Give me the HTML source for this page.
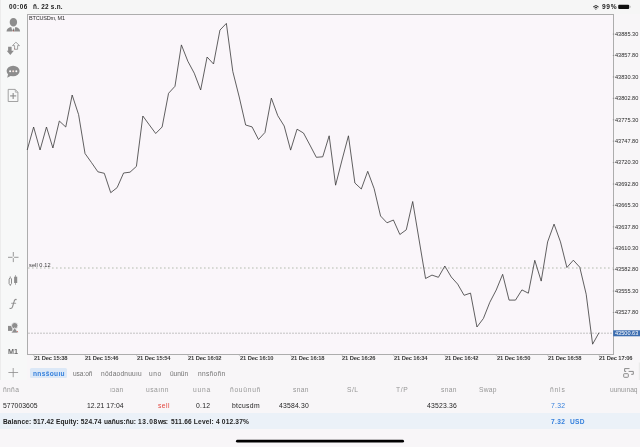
<!DOCTYPE html>
<html><head><meta charset="utf-8">
<style>
html,body{margin:0;padding:0;}
body{width:640px;height:447px;overflow:hidden;position:relative;background:#f8f6f8;font-family:"Liberation Sans", sans-serif;}
.abs{position:absolute;left:0;top:0;}
.t{position:absolute;white-space:nowrap;will-change:transform;}
</style></head><body>
<div class="abs" style="left:0;top:0;width:640px;height:14px;background:#f6f6f6;"></div>
<div class="abs" style="left:0;top:0;width:27px;height:380px;background:#f7f8f8;border-left:1px solid #ececec;box-sizing:border-box;"></div>

<svg class="abs" width="640" height="447" viewBox="0 0 640 447">
  <rect x="27.5" y="14.5" width="586" height="340" fill="#faf6fa" stroke="#adadad" stroke-width="1"/>
  <line x1="28" y1="268" x2="612.5" y2="268" stroke="#b3bcae" stroke-width="1" stroke-dasharray="1.6 2.4"/>
  <line x1="28" y1="333.2" x2="612.5" y2="333.2" stroke="#c2c2c2" stroke-width="1" stroke-dasharray="2 1"/>
  <polyline points="27.20,150.00 33.62,127.00 40.05,150.00 46.47,127.00 52.90,148.00 59.33,121.00 65.75,127.00 72.17,95.00 78.60,114.60 85.02,153.50 91.45,162.50 97.88,171.80 104.30,173.30 110.72,192.70 117.15,187.60 123.58,173.00 130.00,172.20 136.42,166.40 142.85,116.00 149.28,124.80 155.70,133.50 162.12,127.00 168.55,93.30 174.97,86.30 181.40,44.90 187.82,61.20 194.25,73.20 200.67,90.00 207.10,57.00 213.52,64.00 219.95,30.10 226.37,23.40 232.80,71.50 239.22,97.00 245.65,125.00 252.07,126.90 258.50,139.50 264.93,132.50 271.35,98.10 277.77,115.70 284.20,126.00 290.62,150.10 297.05,129.20 303.47,133.00 309.90,145.00 316.32,157.30 322.75,156.80 329.17,135.80 335.60,185.20 342.02,160.00 348.45,135.80 354.88,183.00 361.30,189.00 367.72,171.30 374.15,188.70 380.57,216.00 387.00,222.80 393.42,220.00 399.85,234.50 406.27,229.80 412.70,201.50 419.12,240.00 425.55,278.50 431.97,275.10 438.40,277.30 444.82,266.00 451.25,277.00 457.67,284.10 464.10,295.30 470.52,293.10 476.95,327.00 483.38,318.50 489.80,302.30 496.22,290.00 502.65,274.30 509.07,300.10 515.50,300.10 521.92,289.90 528.35,293.20 534.77,260.30 541.20,281.10 547.62,241.90 554.05,224.10 560.48,241.90 566.90,267.50 573.33,260.20 579.75,267.20 586.18,294.20 592.60,344.20 599.02,332.70" fill="none" stroke="#383838" stroke-width="0.8" stroke-linejoin="miter"/>
  <line x1="612.8" y1="34.10" x2="614.3" y2="34.10" stroke="#777" stroke-width="0.6"/><line x1="612.8" y1="55.51" x2="614.3" y2="55.51" stroke="#777" stroke-width="0.6"/><line x1="612.8" y1="76.93" x2="614.3" y2="76.93" stroke="#777" stroke-width="0.6"/><line x1="612.8" y1="98.34" x2="614.3" y2="98.34" stroke="#777" stroke-width="0.6"/><line x1="612.8" y1="119.76" x2="614.3" y2="119.76" stroke="#777" stroke-width="0.6"/><line x1="612.8" y1="141.18" x2="614.3" y2="141.18" stroke="#777" stroke-width="0.6"/><line x1="612.8" y1="162.59" x2="614.3" y2="162.59" stroke="#777" stroke-width="0.6"/><line x1="612.8" y1="184.00" x2="614.3" y2="184.00" stroke="#777" stroke-width="0.6"/><line x1="612.8" y1="205.42" x2="614.3" y2="205.42" stroke="#777" stroke-width="0.6"/><line x1="612.8" y1="226.83" x2="614.3" y2="226.83" stroke="#777" stroke-width="0.6"/><line x1="612.8" y1="248.25" x2="614.3" y2="248.25" stroke="#777" stroke-width="0.6"/><line x1="612.8" y1="269.67" x2="614.3" y2="269.67" stroke="#777" stroke-width="0.6"/><line x1="612.8" y1="291.08" x2="614.3" y2="291.08" stroke="#777" stroke-width="0.6"/><line x1="612.8" y1="312.50" x2="614.3" y2="312.50" stroke="#777" stroke-width="0.6"/>
  <line x1="33.83" y1="354.5" x2="33.83" y2="356" stroke="#b0b0b0" stroke-width="0.6"/><line x1="85.22" y1="354.5" x2="85.22" y2="356" stroke="#b0b0b0" stroke-width="0.6"/><line x1="136.62" y1="354.5" x2="136.62" y2="356" stroke="#b0b0b0" stroke-width="0.6"/><line x1="188.02" y1="354.5" x2="188.02" y2="356" stroke="#b0b0b0" stroke-width="0.6"/><line x1="239.42" y1="354.5" x2="239.42" y2="356" stroke="#b0b0b0" stroke-width="0.6"/><line x1="290.82" y1="354.5" x2="290.82" y2="356" stroke="#b0b0b0" stroke-width="0.6"/><line x1="342.22" y1="354.5" x2="342.22" y2="356" stroke="#b0b0b0" stroke-width="0.6"/><line x1="393.62" y1="354.5" x2="393.62" y2="356" stroke="#b0b0b0" stroke-width="0.6"/><line x1="445.02" y1="354.5" x2="445.02" y2="356" stroke="#b0b0b0" stroke-width="0.6"/><line x1="496.42" y1="354.5" x2="496.42" y2="356" stroke="#b0b0b0" stroke-width="0.6"/><line x1="547.83" y1="354.5" x2="547.83" y2="356" stroke="#b0b0b0" stroke-width="0.6"/><line x1="599.23" y1="354.5" x2="599.23" y2="356" stroke="#b0b0b0" stroke-width="0.6"/>
  <rect x="613.2" y="330.3" width="26.8" height="6" fill="#3c6db0"/>
</svg>

<svg class="abs" width="640" height="447" viewBox="0 0 640 447">
 <g fill="#8d8d8d" stroke="none">
  <!-- person -->
  <path d="M13.4,17.9 C15.7,17.9 17.1,19.7 17.1,21.9 C17.1,24.7 15.4,26.5 13.4,26.5 C11.4,26.5 9.7,24.7 9.7,21.9 C9.7,19.7 11.1,17.9 13.4,17.9 Z"/>
  <path d="M6.5,31.5 C6.5,29.2 8.6,27.6 11.2,27.1 L12.6,31.5 Z"/>
  <path d="M20.1,31.5 C20.1,29.2 18,27.6 15.4,27.1 L14.0,31.5 Z"/>
  <path d="M13.3,27.9 L14.0,30.3 L13.3,31.5 L12.6,30.3 Z" fill="#6c6c6c"/>
  <rect x="12.95" y="30.6" width="0.7" height="0.9" fill="#d84a3a"/>
  <!-- down arrow filled -->
  <path d="M8.1,46.7 L11.6,46.7 L11.6,50.8 L13.9,50.8 L10.3,55 L6.7,50.8 L8.1,50.8 Z"/>
  <!-- chat bubble -->
  <ellipse cx="13.1" cy="71.0" rx="6.5" ry="5.2"/>
  <path d="M8.3,73.5 L7.2,77.7 L11.5,75.5 Z"/>
  <!-- candles filled -->
  <rect x="14.1" y="276.7" width="3.1" height="6.3"/>
  <rect x="15.3" y="275.1" width="0.7" height="9.7"/>
  <!-- shapes -->
  <rect x="8" y="325.9" width="4.4" height="5"/>
  <circle cx="14.7" cy="325.7" r="3.2" stroke="#f5f5f7" stroke-width="0.8"/>
  <path d="M14.7,327.6 L18.3,333 L11.1,333 Z" stroke="#f5f5f7" stroke-width="0.7"/>
  <rect x="17" y="331" width="0.8" height="0.8" fill="#d84a3a"/>
  <rect x="14.2" y="48.4" width="0.8" height="0.9" fill="#d84a3a"/>
 </g>
 <g fill="#ffffff">
  <circle cx="10.1" cy="71.3" r="1.0"/>
  <circle cx="13.2" cy="71.3" r="1.0" fill="#f6e2dc"/>
  <circle cx="16.3" cy="71.3" r="1.0"/>
 </g>
 <g fill="none" stroke="#8d8d8d" stroke-width="0.8">
  <!-- up arrow outline -->
  <path d="M15.9,42.2 L19.5,45.6 L17.6,45.6 L17.6,49.3 L14.6,49.3 L14.6,45.6 L12.5,45.6 Z"/>
  <!-- doc plus -->
  <path d="M8.2,89.4 L15.2,89.4 L17.9,92.3 L17.9,101.5 L8.2,101.5 Z"/>
  <path d="M15.2,89.6 L15.4,92.2 L17.9,92.3" stroke-width="0.6"/>
  <!-- candle outline -->
  <path d="M10.3,277.6 L11.5,279 L11.5,283.6 L10.3,285 L9.1,283.6 L9.1,279 Z" stroke-width="1"/>
  <line x1="10.3" y1="276.4" x2="10.3" y2="277.6"/>
  <line x1="10.3" y1="285" x2="10.3" y2="286"/>
  <!-- f -->
  <path d="M16.6,299.6 C15.3,299.1 14.5,299.9 14.2,301.2 L12.5,306.8 C12.1,308.1 11.0,308.7 9.6,308.4" stroke-width="1.15"/>
  <line x1="11.2" y1="303.3" x2="16.1" y2="303.3"/>
 </g>
 <g stroke="#8d8d8d" fill="none">
  <line x1="10.1" y1="95.9" x2="16.2" y2="95.9" stroke-width="1.1"/>
  <line x1="13.15" y1="93.0" x2="13.15" y2="99" stroke-width="1.1"/>
  <!-- crosshair -->
  <line x1="8" y1="257.3" x2="12.5" y2="257.3" stroke-width="0.9"/>
  <line x1="14.1" y1="257.3" x2="18.5" y2="257.3" stroke-width="0.9"/>
  <line x1="13.3" y1="252" x2="13.3" y2="256.5" stroke-width="0.9"/>
  <line x1="13.3" y1="258.1" x2="13.3" y2="262.1" stroke-width="0.9"/>
  <!-- plus bottom -->
  <line x1="8.4" y1="372.5" x2="18.1" y2="372.5" stroke-width="0.8"/>
  <line x1="13.2" y1="368" x2="13.2" y2="377.2" stroke-width="0.8"/>
 </g>
 <!-- wifi -->
 <g fill="none" stroke="#1a1a1a" stroke-linecap="butt">
  <path d="M593.2,6.9 A3.8,3.8 0 0 1 598.6,6.9" stroke-width="0.95"/>
  <path d="M594.4,8.0 A2.2,2.2 0 0 1 597.4,8.0" stroke-width="0.95"/>
 </g>
 <path d="M595.1,8.9 A1.1,1.1 0 0 1 596.7,8.9 L595.9,9.7 Z" fill="#1a1a1a"/>
 <!-- battery -->
 <rect x="618.2" y="4.7" width="11" height="4.2" rx="1" fill="#111"/>
 <rect x="629.6" y="5.9" width="1.1" height="1.8" fill="#bbb"/>
 <!-- chart toolbar icon right -->
 <g fill="none" stroke="#8a8a8a" stroke-width="1">
  <path d="M629.5,368.6 L624.6,368.6 L624.6,371.4 L626.2,371.4"/>
  <path d="M628.6,371.4 L633.3,371.4 L633.3,374.3 L631.2,374.3"/>
  <rect x="623.7" y="373.7" width="4.6" height="3.6" rx="0.6"/>
 </g>
 <rect x="638.8" y="362.5" width="1.2" height="17.5" fill="#ebebeb"/>
 <!-- home indicator -->
 <rect x="236" y="439.7" width="168" height="2.9" rx="1.45" fill="#000"/>
 <!-- right edge bar -->
</svg>
<div class="t" style="left:9.1px;top:3.88px;font-size:6.4px;line-height:6.4px;color:#1a1a1a;font-weight:bold;letter-spacing:0.485px;">00:06</div>
<div class="t" style="left:601.7px;top:4.11px;font-size:6.6px;line-height:6.6px;color:#1a1a1a;font-weight:bold;letter-spacing:0.648px;">99%</div>
<div class="t" style="left:614.6px;top:31.86px;font-size:5.6px;line-height:5.6px;color:#2a2a2a;font-weight:normal;">43885.30</div>
<div class="t" style="left:614.6px;top:53.27px;font-size:5.6px;line-height:5.6px;color:#2a2a2a;font-weight:normal;">43857.80</div>
<div class="t" style="left:614.6px;top:74.69px;font-size:5.6px;line-height:5.6px;color:#2a2a2a;font-weight:normal;">43830.30</div>
<div class="t" style="left:614.6px;top:96.10px;font-size:5.6px;line-height:5.6px;color:#2a2a2a;font-weight:normal;">43802.80</div>
<div class="t" style="left:614.6px;top:117.52px;font-size:5.6px;line-height:5.6px;color:#2a2a2a;font-weight:normal;">43775.30</div>
<div class="t" style="left:614.6px;top:138.93px;font-size:5.6px;line-height:5.6px;color:#2a2a2a;font-weight:normal;">43747.80</div>
<div class="t" style="left:614.6px;top:160.35px;font-size:5.6px;line-height:5.6px;color:#2a2a2a;font-weight:normal;">43720.30</div>
<div class="t" style="left:614.6px;top:181.76px;font-size:5.6px;line-height:5.6px;color:#2a2a2a;font-weight:normal;">43692.80</div>
<div class="t" style="left:614.6px;top:203.18px;font-size:5.6px;line-height:5.6px;color:#2a2a2a;font-weight:normal;">43665.30</div>
<div class="t" style="left:614.6px;top:224.59px;font-size:5.6px;line-height:5.6px;color:#2a2a2a;font-weight:normal;">43637.80</div>
<div class="t" style="left:614.6px;top:246.01px;font-size:5.6px;line-height:5.6px;color:#2a2a2a;font-weight:normal;">43610.30</div>
<div class="t" style="left:614.6px;top:267.42px;font-size:5.6px;line-height:5.6px;color:#2a2a2a;font-weight:normal;">43582.80</div>
<div class="t" style="left:614.6px;top:288.84px;font-size:5.6px;line-height:5.6px;color:#2a2a2a;font-weight:normal;">43555.30</div>
<div class="t" style="left:614.6px;top:310.25px;font-size:5.6px;line-height:5.6px;color:#2a2a2a;font-weight:normal;">43527.80</div>
<div class="t" style="left:34.025px;top:356.09px;font-size:5.8px;line-height:5.8px;color:#3a3a3a;font-weight:bold;letter-spacing:-0.140px;">21 Dec 15:38</div>
<div class="t" style="left:85.425px;top:356.09px;font-size:5.8px;line-height:5.8px;color:#3a3a3a;font-weight:bold;letter-spacing:-0.140px;">21 Dec 15:46</div>
<div class="t" style="left:136.825px;top:356.09px;font-size:5.8px;line-height:5.8px;color:#3a3a3a;font-weight:bold;letter-spacing:-0.140px;">21 Dec 15:54</div>
<div class="t" style="left:188.225px;top:356.09px;font-size:5.8px;line-height:5.8px;color:#3a3a3a;font-weight:bold;letter-spacing:-0.140px;">21 Dec 16:02</div>
<div class="t" style="left:239.625px;top:356.09px;font-size:5.8px;line-height:5.8px;color:#3a3a3a;font-weight:bold;letter-spacing:-0.140px;">21 Dec 16:10</div>
<div class="t" style="left:291.025px;top:356.09px;font-size:5.8px;line-height:5.8px;color:#3a3a3a;font-weight:bold;letter-spacing:-0.140px;">21 Dec 16:18</div>
<div class="t" style="left:342.42499999999995px;top:356.09px;font-size:5.8px;line-height:5.8px;color:#3a3a3a;font-weight:bold;letter-spacing:-0.140px;">21 Dec 16:26</div>
<div class="t" style="left:393.82499999999993px;top:356.09px;font-size:5.8px;line-height:5.8px;color:#3a3a3a;font-weight:bold;letter-spacing:-0.140px;">21 Dec 16:34</div>
<div class="t" style="left:445.22499999999997px;top:356.09px;font-size:5.8px;line-height:5.8px;color:#3a3a3a;font-weight:bold;letter-spacing:-0.140px;">21 Dec 16:42</div>
<div class="t" style="left:496.62499999999994px;top:356.09px;font-size:5.8px;line-height:5.8px;color:#3a3a3a;font-weight:bold;letter-spacing:-0.140px;">21 Dec 16:50</div>
<div class="t" style="left:548.025px;top:356.09px;font-size:5.8px;line-height:5.8px;color:#3a3a3a;font-weight:bold;letter-spacing:-0.140px;">21 Dec 16:58</div>
<div class="t" style="left:599.425px;top:356.09px;font-size:5.8px;line-height:5.8px;color:#3a3a3a;font-weight:bold;letter-spacing:-0.140px;">21 Dec 17:06</div>
<div class="t" style="left:28.6px;top:16.14px;font-size:5.5px;line-height:5.5px;color:#2a2a2a;font-weight:normal;letter-spacing:-0.189px;">BTCUSDm, M1</div>
<div class="t" style="left:28.9px;top:262.86px;font-size:5.6px;line-height:5.6px;color:#3a3a3a;font-weight:normal;letter-spacing:0.082px;">sell 0.12</div>
<div class="t" style="left:8.3px;top:348.11px;font-size:7.2px;line-height:7.2px;color:#6a6a6a;font-weight:bold;">M1</div>
<div class="t" style="left:32.9px;top:3.88px;font-size:6.4px;line-height:6.4px;color:#1a1a1a;font-weight:bold;letter-spacing:0.249px;">ñ. 22 s.n.</div>
<div class="abs" style="left:30px;top:368.3px;width:37.2px;height:10px;background:#dce8f7;border-radius:1.5px;"></div>
<div class="t" style="left:32.8px;top:371.01px;font-size:6.6px;line-height:6.6px;color:#3680dc;font-weight:bold;letter-spacing:0.327px;">nnsšouıu</div>
<div class="t" style="left:72.5px;top:371.01px;font-size:6.6px;line-height:6.6px;color:#727272;font-weight:normal;letter-spacing:-0.083px;">usa:oñ</div>
<div class="t" style="left:100.6px;top:371.01px;font-size:6.6px;line-height:6.6px;color:#727272;font-weight:normal;letter-spacing:0.208px;">nödaodnuuıu</div>
<div class="t" style="left:149px;top:371.01px;font-size:6.6px;line-height:6.6px;color:#727272;font-weight:normal;letter-spacing:0.592px;">uno</div>
<div class="t" style="left:170px;top:371.01px;font-size:6.6px;line-height:6.6px;color:#727272;font-weight:normal;letter-spacing:-0.061px;">üunün</div>
<div class="t" style="left:197.5px;top:371.01px;font-size:6.6px;line-height:6.6px;color:#727272;font-weight:normal;letter-spacing:0.298px;">nnsñoñn</div>
<div class="t" style="left:2.7px;top:386.53px;font-size:6.7px;line-height:6.7px;color:#979797;font-weight:normal;letter-spacing:0.336px;">ñnña</div>
<div class="t" style="left:110px;top:386.53px;font-size:6.7px;line-height:6.7px;color:#979797;font-weight:normal;letter-spacing:0.153px;">ıɔan</div>
<div class="t" style="left:146px;top:386.53px;font-size:6.7px;line-height:6.7px;color:#979797;font-weight:normal;letter-spacing:0.461px;">usaınn</div>
<div class="t" style="left:192.8px;top:386.53px;font-size:6.7px;line-height:6.7px;color:#979797;font-weight:normal;letter-spacing:0.770px;">uuna</div>
<div class="t" style="left:230.3px;top:386.53px;font-size:6.7px;line-height:6.7px;color:#979797;font-weight:normal;letter-spacing:0.709px;">ñouünuñ</div>
<div class="t" style="left:293px;top:386.53px;font-size:6.7px;line-height:6.7px;color:#979797;font-weight:normal;letter-spacing:0.361px;">snan</div>
<div class="t" style="left:346.9px;top:386.53px;font-size:6.7px;line-height:6.7px;color:#979797;font-weight:normal;letter-spacing:0.427px;">S/L</div>
<div class="t" style="left:396.2px;top:386.53px;font-size:6.7px;line-height:6.7px;color:#979797;font-weight:normal;letter-spacing:0.597px;">T/P</div>
<div class="t" style="left:441.2px;top:386.53px;font-size:6.7px;line-height:6.7px;color:#979797;font-weight:normal;letter-spacing:0.361px;">snan</div>
<div class="t" style="left:478.7px;top:386.53px;font-size:6.7px;line-height:6.7px;color:#979797;font-weight:normal;letter-spacing:0.255px;">Swap</div>
<div class="t" style="left:550px;top:386.53px;font-size:6.7px;line-height:6.7px;color:#979797;font-weight:normal;letter-spacing:0.840px;">ñnls</div>
<div class="t" style="left:610px;top:386.53px;font-size:6.7px;line-height:6.7px;color:#979797;font-weight:normal;letter-spacing:-0.044px;">uunuınaq</div>
<div class="t" style="left:2.7px;top:402.84px;font-size:6.8px;line-height:6.8px;color:#1e1e1e;font-weight:normal;letter-spacing:0.071px;">577003605</div>
<div class="t" style="left:87px;top:402.84px;font-size:6.8px;line-height:6.8px;color:#1e1e1e;font-weight:normal;letter-spacing:0.069px;">12.21 17:04</div>
<div class="t" style="left:157.5px;top:402.84px;font-size:6.8px;line-height:6.8px;color:#e2463f;font-weight:normal;letter-spacing:0.466px;">sell</div>
<div class="t" style="left:195.8px;top:402.84px;font-size:6.8px;line-height:6.8px;color:#1e1e1e;font-weight:normal;letter-spacing:0.289px;">0.12</div>
<div class="t" style="left:231.8px;top:402.84px;font-size:6.8px;line-height:6.8px;color:#1e1e1e;font-weight:normal;letter-spacing:0.319px;">btcusdm</div>
<div class="t" style="left:279px;top:402.84px;font-size:6.8px;line-height:6.8px;color:#1e1e1e;font-weight:normal;letter-spacing:0.192px;">43584.30</div>
<div class="t" style="left:427px;top:402.84px;font-size:6.8px;line-height:6.8px;color:#1e1e1e;font-weight:normal;letter-spacing:0.206px;">43523.36</div>
<div class="t" style="left:550.7px;top:402.84px;font-size:6.8px;line-height:6.8px;color:#3680dc;font-weight:normal;letter-spacing:0.289px;">7.32</div>
<div class="abs" style="left:0;top:413.1px;width:640px;height:15.6px;background:#ebf1f8;"></div>
<div class="t" style="left:2.6px;top:419.01px;font-size:6.6px;line-height:6.6px;color:#1e1e1e;font-weight:bold;letter-spacing:0.098px;">Balance: 517.42 Equity: 524.74</div>
<div class="t" style="left:103.7px;top:419.01px;font-size:6.6px;line-height:6.6px;color:#1e1e1e;font-weight:bold;letter-spacing:0.003px;">uañus:ñu:</div>
<div class="t" style="left:137.5px;top:419.01px;font-size:6.6px;line-height:6.6px;color:#1e1e1e;font-weight:bold;letter-spacing:0.696px;">13.08</div>
<div class="t" style="left:158.1px;top:419.01px;font-size:6.6px;line-height:6.6px;color:#1e1e1e;font-weight:bold;letter-spacing:-0.500px;">ws:</div>
<div class="t" style="left:170.6px;top:419.01px;font-size:6.6px;line-height:6.6px;color:#1e1e1e;font-weight:bold;letter-spacing:0.174px;">511.66 Level: 4 012.37%</div>
<div class="t" style="left:550.7px;top:419.01px;font-size:6.6px;line-height:6.6px;color:#3680dc;font-weight:bold;letter-spacing:0.397px;">7.32&nbsp;&nbsp;USD</div>

<div class="t" style="left:614.6px;top:330.76px;font-size:5.6px;line-height:5.6px;color:#fff;">43500.63</div>
</body></html>
